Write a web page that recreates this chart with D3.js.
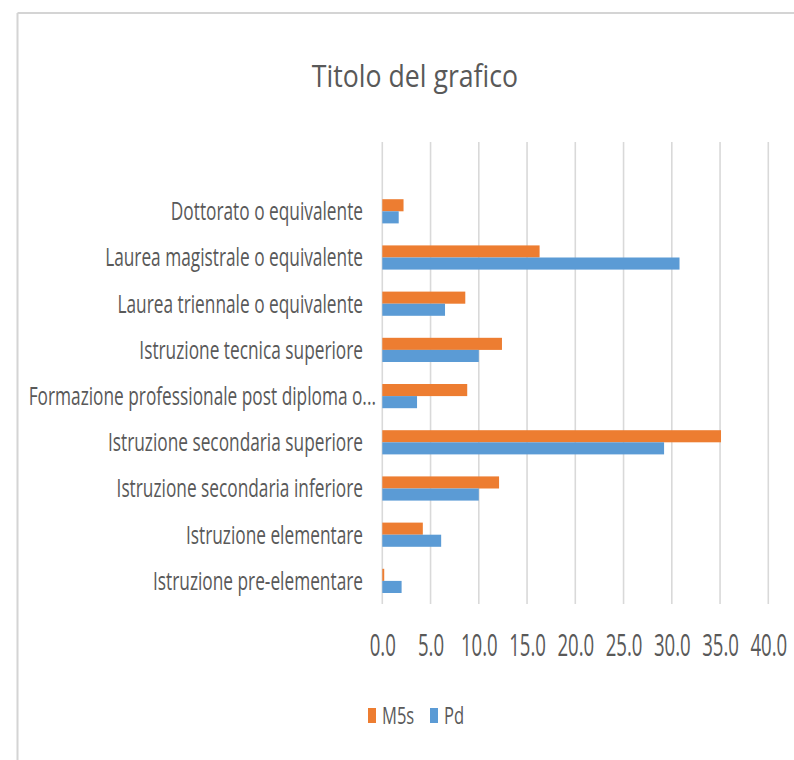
<!DOCTYPE html>
<html>
<head>
<meta charset="utf-8">
<script src="https://cdn.jsdelivr.net/npm/d3@7"></script>
<style>
  html, body { margin: 0; padding: 0; background: #ffffff; }
  svg { display: block; }
  text { font-family: "Open Sans", "Noto Sans", sans-serif; fill: #595959; }
</style>
</head>
<body>
<svg id="chart" width="794" height="760"></svg>
<script>
const chartTitle = "Titolo del grafico";
const categories = [
  "Dottorato o equivalente",
  "Laurea magistrale o equivalente",
  "Laurea triennale o equivalente",
  "Istruzione tecnica superiore",
  "Formazione professionale post diploma o...",
  "Istruzione secondaria superiore",
  "Istruzione secondaria inferiore",
  "Istruzione elementare",
  "Istruzione pre-elementare"
];
const seriesNames = ["M5s", "Pd"];
const m5sValues = [2.2, 16.3, 8.6, 12.4, 8.8, 35.1, 12.1, 4.2, 0.2];
const pdValues  = [1.7, 30.8, 6.5, 10.0, 3.6, 29.2, 10.0, 6.1, 2.0];
const xTickValues = [0, 5, 10, 15, 20, 25, 30, 35, 40];
const seriesColors = ["#ED7D31", "#5B9BD5"];

const svg = d3.select("#chart");

// squeeze helper: narrows text horizontally around its anchor x, like the reference
function squeeze(sel, k) {
  sel.each(function () {
    const ax = +this.getAttribute("x") || 0;
    this.setAttribute("transform", `translate(${(ax * (1 - k)).toFixed(2)},0) scale(${k},1)`);
  });
}

// frame
svg.append("line").attr("x1", 17.5).attr("x2", 794).attr("y1", 13).attr("y2", 13)
  .attr("stroke", "#d4d4d4").attr("stroke-width", 2);
svg.append("line").attr("x1", 17.5).attr("x2", 17.5).attr("y1", 13).attr("y2", 760)
  .attr("stroke", "#d4d4d4").attr("stroke-width", 2);

// title
const title = svg.append("text").attr("x", 415).attr("y", 87)
  .attr("text-anchor", "middle").attr("font-size", 31).text(chartTitle);
squeeze(title, 0.86);

// scales
const x = d3.scaleLinear().domain([0, 40]).range([382.3, 768.3]);
const slots = [""].concat(categories); // empty slot at top, as in the source sheet
const y = d3.scaleBand().domain(slots).range([142, 604]).padding(0);
const ySub = d3.scaleBand().domain(seriesNames).range([0, y.bandwidth()])
  .paddingInner(0).paddingOuter(0.91);
const color = d3.scaleOrdinal().domain(seriesNames).range(seriesColors);

// gridlines
svg.append("g").selectAll("line").data(xTickValues).join("line")
  .attr("x1", d => x(d)).attr("x2", d => x(d))
  .attr("y1", 142).attr("y2", 604)
  .attr("stroke", "#d9d9d9").attr("stroke-width", 1.6);

// x axis tick labels
const xAxis = d3.axisBottom(x).tickValues(xTickValues).tickFormat(d3.format(".1f")).tickSize(0).tickPadding(0);
const xg = svg.append("g").attr("transform", "translate(0,604)").call(xAxis);
xg.select(".domain").remove();
xg.selectAll("text").attr("font-size", 31).attr("fill", "#595959")
  .attr("font-family", "Open Sans, sans-serif")
  .attr("dy", null).attr("y", 52);
squeeze(xg.selectAll("text"), 0.6);

// category labels
const yAxis = d3.axisLeft(y).tickValues(categories).tickSize(0).tickPadding(0);
const yg = svg.append("g").attr("transform", "translate(363,0)").call(yAxis);
yg.select(".domain").remove();
yg.selectAll("text").attr("font-size", 26).attr("fill", "#595959")
  .attr("font-family", "Open Sans, sans-serif")
  .attr("dy", "0.34em")
  .attr("x", d => d.endsWith("...") ? 13 : 0);
squeeze(yg.selectAll("text"), 0.665);

// bars
const rows = categories.map((c, i) => ({ cat: c, vals: [
  { s: seriesNames[0], v: m5sValues[i] },
  { s: seriesNames[1], v: pdValues[i] }
]}));
const groups = svg.append("g").selectAll("g").data(rows).join("g")
  .attr("transform", d => `translate(0,${y(d.cat)})`);
groups.selectAll("rect").data(d => d.vals).join("rect")
  .attr("x", x(0))
  .attr("y", d => ySub(d.s))
  .attr("width", d => x(d.v) - x(0))
  .attr("height", ySub.bandwidth())
  .attr("fill", d => color(d.s));

// legend
const legendX = [368, 430];
const legend = svg.append("g").selectAll("g").data(seriesNames).join("g")
  .attr("transform", (d, i) => `translate(${legendX[i]},0)`);
legend.append("rect").attr("x", 0).attr("y", 708).attr("width", 8).attr("height", 15)
  .attr("fill", d => color(d));
const lt = legend.append("text").attr("x", 14).attr("y", 724).attr("font-size", 23).text(d => d);
squeeze(lt, 0.72);
</script>
</body>
</html>
